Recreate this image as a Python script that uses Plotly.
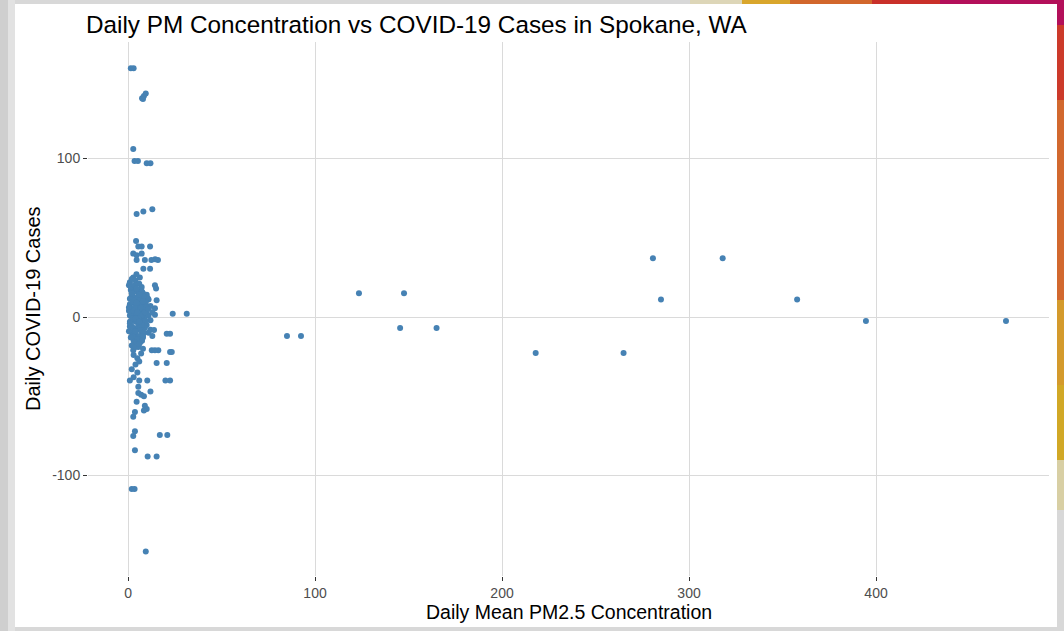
"""Daily PM2.5 vs COVID-19 cases scatter, Spokane WA."""

import plotly.graph_objects as go

# daily mean PM2.5 (x) and daily COVID-19 cases (y)
pm25 = [
    # upper tail of the cluster
    1.5, 3, 7.5, 8.5, 9.5, 8, 2.8, 3.5, 5.3, 10, 12,
    4.6, 8.2, 13,
    4.3, 5.5, 7.3, 11.8, 2.8, 4.6, 7.3, 4.6, 9, 12.5, 16, 14.5,
    8.2, 11.8, 2.8, 6.3, 3.7, 7.3, 14.4, 15,
    1, 15.3, 14.4, 14.4, 23.9, 31.4,
    # dense core
    1, 2, 4, 6, 3, 5, 8, 10, 2, 4, 6, 9, 11, 1, 3, 5, 7, 9, 12, 2,
    4, 6, 8, 10, 1, 3, 5, 7, 9, 11, 2, 4, 6, 8, 10, 1, 3, 5, 7, 9,
    2, 4, 6, 8, 3, 5, 1, 0.5, 0.5, 12, 13, 11, 1.5, 7, 4.5, 2.5, 6.5, 3.5,
    7.5, 9.5, 5.5, 2.5, 6.5, 10.5,
    0.5, 1.5, 2.5, 3.5, 4.5, 5.5, 6.5, 7.5, 8.5, 9.5, 0.5, 1.5, 2.5, 3.5,
    4.5, 5.5, 6.5, 7.5, 8.5, 1, 2, 3, 4, 5, 6, 7, 8, 9, 10, 1.5, 3.5, 5.5,
    7.5, 2, 4, 6, 8, 11, 12, 13,
    # lower tail
    13.9, 20.7, 22.5, 12.7, 16.2, 2.8, 14.4, 23.4, 22.5, 2, 4, 6, 8, 3, 5, 7,
    4, 6, 2, 5, 3, 15.3, 20.7, 1, 6, 10.3, 20, 22.5, 5.5, 5.5, 7, 12, 8.5,
    4.6, 9, 10, 8.5, 3.7, 2.8, 3.7, 2.8, 17, 21, 3.7, 10.5, 15.3, 2, 3.5, 9.5,
    # high PM days
    85, 92.5, 123.5, 147.6, 145.5, 165, 218, 265, 280.7, 285, 318, 357.8,
    394.6, 469.5,
]
cases = [
    157, 157, 138, 139.5, 141, 137.5, 106, 98.5, 98.5, 97, 97,
    65, 66.5, 68,
    48, 44.5, 44.5, 44.5, 40, 39, 40, 36, 36, 36, 36, 36.5,
    30.5, 30.5, 25, 25, 19, 19, 20, 18,
    11.5, 10.5, 5.5, 1.5, 2, 2,
    22, 24, 23, 21, 17, 16, 15, 14, 13, 12, 11, 10, 11, 8, 9, 7, 8, 6, 7, 5,
    4, 3, 4, 2, 1, 0, 1, -1, 0, 1, -2, -3, -4, -3, -5, -6, -7, -8, -9, -7,
    -10, -11, -12, -13, -15, -14, -3, 4, -9, -2, 3, -10, 17, 18, 27, 9.5, 5.5, 2.5,
    1.5, -2.5, -5.5, -12, -16, 12,
    20, 19, 14, 20, 18, 13, 12, 16, 13, 9, 6, 3, -1, 6,
    9, -1, -7, -5, -10, -4, -6, 4, -1, 3, -3, 6, -12, 3, 6, -13, -16, -19,
    -15, 15, -9, 14, 10, 5, -8, -12,
    -8.2, -10.5, -10.5, -21, -21, -21, -21, -22, -22, -18, -19, -17, -20, -24, -26, -23,
    -30, -28, -33, -35, -38, -29, -29, -40, -40, -40, -40, -40, -44, -48, -49, -47, -50,
    -53.4, -56, -58, -59, -60, -63, -72, -75, -74.5, -74.5, -84, -88, -88, -108.5, -108.5, -148,
    -12, -12, 15, 15, -7, -7, -22.7, -22.7, 37, 11, 37, 11,
    -2.5, -2.5,
]

x_ticks = [0, 100, 200, 300, 400]
y_ticks = [-100, 0, 100]
y_tick_text = ["-100", "0", "100"]

fig = go.Figure()
fig.add_trace(
    go.Scatter(
        x=pm25, y=cases, mode="markers",
        marker=dict(color="#4682B4", size=6, line=dict(width=0)),
        showlegend=False,
    )
)

# slide-like frame around the chart (gray edge, coloured strips top right)
def px_x(p):
    return (p - 88) / 961


def px_y(p):
    return (576 - p) / 534


frame = [
    (0, 0, 1064, 631, "#d8d8d8"),
    (0, 0, 8, 631, "#cfcfcf"),
    (8, 0, 15, 631, "#e2e2e2"),
    (690, 0, 742, 5, "#ddd6b8"),
    (742, 0, 790, 5, "#d9a62c"),
    (790, 0, 872, 5, "#d2672c"),
    (872, 0, 940, 5, "#c9302a"),
    (940, 0, 1064, 5, "#b3105a"),
    (1057, 0, 1064, 25, "#b3105a"),
    (1057, 25, 1064, 100, "#cc3a2a"),
    (1057, 100, 1064, 300, "#d2682e"),
    (1057, 300, 1064, 385, "#d49a2c"),
    (1057, 385, 1064, 460, "#d1a826"),
    (1057, 460, 1064, 510, "#d8cfa4"),
    (15, 4, 1057, 627, "#ffffff"),
]
for x0, y0, x1, y1, col in frame:
    fig.add_shape(
        type="rect", xref="paper", yref="paper", layer="below",
        x0=px_x(x0), x1=px_x(x1), y0=px_y(y1), y1=px_y(y0),
        fillcolor=col, line=dict(width=0),
    )

axis_common = dict(
    showgrid=True, gridcolor="#dadada", gridwidth=1.4,
    zeroline=False, showline=False,
    ticks="outside", ticklen=4, tickwidth=1, tickcolor="#333333",
    tickfont=dict(size=14, color="#4d4d4d"),
)
fig.update_xaxes(range=[-21.4, 492.5], tickvals=x_ticks, **axis_common)
fig.update_yaxes(range=[-163.4, 173.5], tickvals=y_ticks, ticktext=y_tick_text,
                 **axis_common)

fig.add_annotation(
    text="Daily Mean PM2.5 Concentration", xref="paper", yref="paper",
    x=0.5, y=px_y(612), xanchor="center", yanchor="middle",
    showarrow=False, font=dict(size=19.5, color="#000000"),
)
fig.add_annotation(
    text="Daily COVID-19 Cases", xref="paper", yref="paper",
    x=px_x(33), y=0.5, xanchor="center", yanchor="middle", textangle=-90,
    showarrow=False, font=dict(size=20, color="#000000"),
)

fig.update_layout(
    width=1064, height=631,
    margin=dict(l=88, r=15, t=42, b=55),
    paper_bgcolor="#ffffff",
    plot_bgcolor="#ffffff",
    font=dict(family="Liberation Sans, Arial, sans-serif"),
    title=dict(
        text="Daily PM Concentration vs COVID-19 Cases in Spokane, WA",
        x=86 / 1064, xref="container", xanchor="left",
        y=1 - 24 / 631, yref="container", yanchor="middle",
        font=dict(size=24.3, color="#000000"),
    ),
)

fig.write_html(
    "out.html",
    config={"displayModeBar": False},
    post_script="document.body.style.margin='0';",
)
